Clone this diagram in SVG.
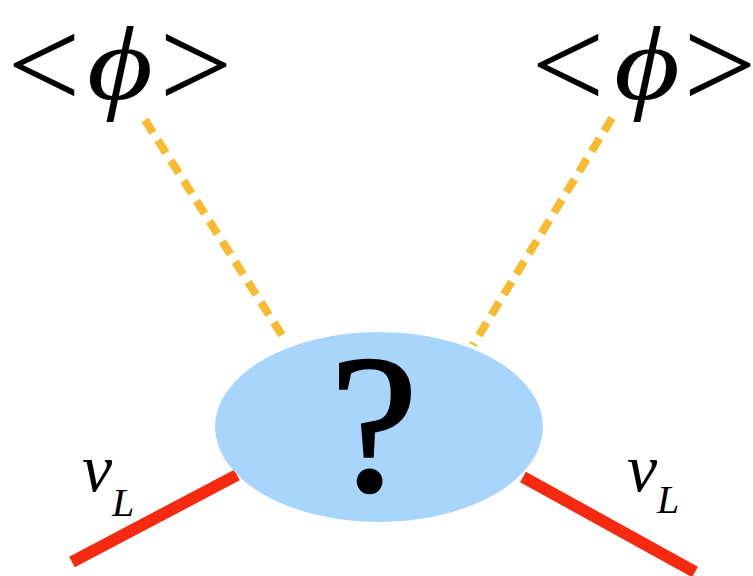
<svg xmlns="http://www.w3.org/2000/svg" width="753" height="576" viewBox="0 0 753 576">
<style>
.scalar{stroke:#F8BB30;stroke-width:8;stroke-dasharray:15 9;fill:none}
.nu{stroke:#F52A10;stroke-width:12;fill:none}
.t{font-family:"Liberation Serif","DejaVu Serif",serif;fill:#000}
.it{font-style:italic}
.br{font-size:130px;text-anchor:middle}
.phi{font-size:106px;text-anchor:middle;font-style:italic}
</style>
<rect width="753" height="576" fill="#fff"/>
<g id="connectors">
<line class="scalar" x1="145" y1="120" x2="285" y2="340"/>
<line class="scalar" x1="612" y1="118" x2="473" y2="345"/>
<line class="nu" x1="72" y1="562" x2="237" y2="475"/>
<line class="nu" x1="523" y1="477" x2="695" y2="572"/>
</g>
<g id="blob">
<ellipse cx="379" cy="427" rx="164" ry="95" fill="#A8D5FB"/>
<text class="t" x="374" y="490" font-size="198" text-anchor="middle" stroke="#000" stroke-width="2.5">?</text>
</g>
<g id="vev-left">
<text class="t br" x="44" y="108">&lt;</text>
<text class="t phi" transform="translate(120,99) scale(1.2,1)">ϕ</text>
<text class="t br" x="196" y="108">&gt;</text>
</g>
<g id="vev-right">
<text class="t br" x="568" y="108">&lt;</text>
<text class="t phi" transform="translate(647,99) scale(1.2,1)">ϕ</text>
<text class="t br" x="720" y="108">&gt;</text>
</g>
<g id="nu-left">
<text class="t it" x="82" y="491" font-size="68">ν</text>
<text class="t it" x="112" y="516" font-size="40">L</text>
</g>
<g id="nu-right">
<text class="t it" x="627" y="491" font-size="68">ν</text>
<text class="t it" x="657" y="513" font-size="40">L</text>
</g>
</svg>
